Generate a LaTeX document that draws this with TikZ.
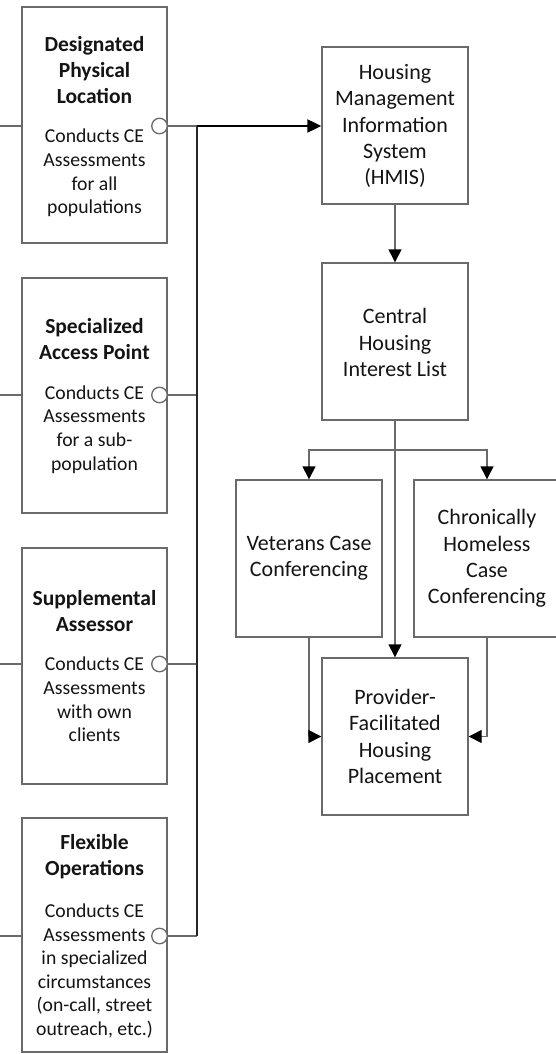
\documentclass[tikz,border=0pt]{standalone}
\usepackage{fontspec}
\setmainfont{Carlito}
\usetikzlibrary{arrows.meta}
\definecolor{edgegray}{HTML}{6A6A6A}
\definecolor{txt}{HTML}{141414}
\begin{document}
\begin{tikzpicture}[x=1pt,y=-1pt,
  box/.style={draw=edgegray,line width=1.4pt,rectangle,inner sep=0pt,fill=white},
  lbox/.style={box,minimum width=145pt},
  rbox/.style={box,minimum width=146pt,minimum height=157pt},
  ttl/.style={align=center,text=txt,font=\fontsize{21.5}{26}\selectfont\bfseries},
  bod/.style={align=center,text=txt,font=\fontsize{19.7}{23.6}\selectfont},
  rtx/.style={align=center,text=txt,font=\fontsize{22}{26.4}\selectfont},
  circ/.style={circle,draw=edgegray,line width=1.3pt,fill=white,minimum size=15.5pt,inner sep=0pt},
  ln/.style={draw=edgegray,line width=1.4pt},
  bus/.style={draw=black!85,line width=1.8pt},
  arr/.style={ln,-{Triangle[length=13pt,width=13pt,color=black]}},
  mainarr/.style={draw=black,line width=2.2pt,-{Triangle[length=14pt,width=13pt,color=black]}}]
\useasboundingbox (0,0) rectangle (555,1054);

% left column boxes
\node[lbox,minimum height=236pt] (b1) at (94.5,125) {};
\node[lbox,minimum height=235pt] (b2) at (94.5,395.5) {};
\node[lbox,minimum height=236pt] (b3) at (94.5,666) {};
\node[lbox,minimum height=234pt] (b4) at (94.5,935) {};

\node[ttl] (t1) at (94.5,70) {Designated\\Physical\\Location};
\node[bod] (d1) at (94.5,173) {Conducts CE\\Assessments\\for all\\populations};
\node[ttl] (t2) at (94.5,339) {Specialized\\Access Point};
\node[bod] (d2) at (94.5,429.5) {Conducts CE\\Assessments\\for a sub-\\population};
\node[ttl] (t3) at (94.5,611) {Supplemental\\Assessor};
\node[bod] (d3) at (94.5,699.5) {Conducts CE\\Assessments\\with own\\clients};
\node[ttl] (t4) at (94.5,857) {Flexible\\Operations};
\node[bod] (d4) at (94.5,971) {Conducts CE\\Assessments\\in specialized\\circumstances\\(on-call, street\\outreach, etc.)};

% left stubs
\coordinate (l1) at (0,126);
\coordinate (l2) at (0,395);
\coordinate (l3) at (0,664);
\coordinate (l4) at (0,936);
\draw[ln] (l1) -- (l1 -| b1.west);
\draw[ln] (l2) -- (l2 -| b2.west);
\draw[ln] (l3) -- (l3 -| b3.west);
\draw[ln] (l4) -- (l4 -| b4.west);

% junctions
\coordinate (j1) at (197,126);
\coordinate (j2) at (197,395);
\coordinate (j3) at (197,664);
\coordinate (j4) at (197,936);

% circles
\node[circ] (c1) at (159.5,126) {};
\node[circ] (c2) at (159.5,395) {};
\node[circ] (c3) at (159.5,664) {};
\node[circ] (c4) at (159.5,936) {};
\draw[ln] (c1.east) -- (j1);
\draw[ln] (c2.east) -- (j2);
\draw[ln] (c3.east) -- (j3);
\draw[ln] (c4.east) -- (j4);
\draw[bus] (j1) -- (j4);

% right column
\node[rbox] (hmis) at (395,125.5) {};
\node[rtx] (th) at (395,126) {Housing\\Management\\Information\\System\\(HMIS)};
\node[rbox] (cent) at (395,341.5) {};
\node[rtx] (tc) at (395,342.5) {Central\\Housing\\Interest List};
\node[rbox] (vet) at (309,558.5) {};
\node[rtx] (tv) at (309,558.5) {Veterans Case\\Conferencing};
\node[rbox] (chr) at (487,558.5) {};
\node[rtx] (tch) at (487,558.5) {Chronically\\Homeless\\Case\\Conferencing};
\node[rbox] (prov) at (395,736.5) {};
\node[rtx] (tp) at (395,736.5) {Provider-\\Facilitated\\Housing\\Placement};

\draw[mainarr] (j1) -- (j1 -| hmis.west);
\draw[arr] (hmis.south) -- (cent.north);
\coordinate (split) at (395,450);
\draw[ln] (cent.south) -- (split);
\draw[arr] (split) -| (vet.north);
\draw[arr] (split) -| (chr.north);
\draw[arr] (split) -- (prov.north);
\draw[arr] (vet.south) |- (prov.west);
\draw[arr] (chr.south) |- (prov.east);
\end{tikzpicture}
\end{document}
